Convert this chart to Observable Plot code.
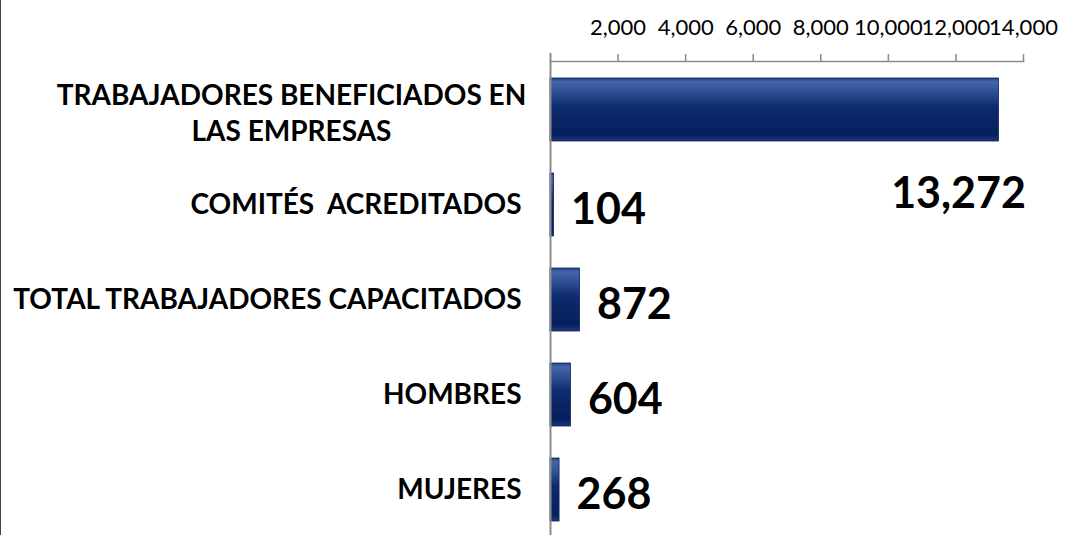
<!DOCTYPE html>
<html>
<head>
<meta charset="utf-8">
<script src="https://cdn.jsdelivr.net/npm/d3@7"></script>
<script src="https://cdn.jsdelivr.net/npm/@observablehq/plot@0.6"></script>
<style>
  html, body { margin: 0; padding: 0; background: #fff; }
  #wrap { position: relative; width: 1078px; height: 535px; overflow: hidden; }
  #frameLine { position: absolute; left: 0; top: 0; width: 1px; height: 535px; background: #444; }
  svg text { white-space: pre; }
</style>
</head>
<body>
<div id="wrap"><div id="frameLine"></div></div>
<script>
const categories = [
  "TRABAJADORES BENEFICIADOS EN\nLAS EMPRESAS",
  "COMITÉS  ACREDITADOS",
  "TOTAL TRABAJADORES CAPACITADOS",
  "HOMBRES",
  "MUJERES"
];
const values = [13272, 104, 872, 604, 268];
const xTicks = [2000, 4000, 6000, 8000, 10000, 12000, 14000];

const data = categories.map((cat, i) => ({cat, value: values[i]}));
const fmt = d3.format(",");

const plot = Plot.plot({
  width: 1078,
  height: 535,
  marginLeft: 550,
  marginRight: 55,
  marginTop: 61,
  marginBottom: 0,
  style: {fontFamily: "Lato, 'Open Sans', sans-serif", background: "white", color: "black", overflow: "visible"},
  x: {domain: [0, 14000], label: null},
  y: {domain: categories, range: [60, 540], paddingInner: 0.333, paddingOuter: 0.1667, label: null},
  marks: [
    Plot.barX(data, {x: "value", y: "cat", fill: "url(#barGrad)", stroke: "#0a1f55", strokeWidth: 0.8}),
    Plot.frame({anchor: "top", stroke: "#8c8c8c", strokeWidth: 1.5}),
    Plot.ruleX([0], {stroke: "#8c8c8c", strokeWidth: 2, insetTop: -8}),
    Plot.axisX({anchor: "top", ticks: xTicks, tickFormat: fmt, tickSize: 8, tickPadding: 19,
      fontSize: 22, stroke: "#8c8c8c", strokeWidth: 1.5, fill: "black", label: null}),
    Plot.axisY({ticks: categories.slice(1), tickSize: 0, tickPadding: 29, fontSize: 28,
      fontWeight: "bold", fill: "black", label: null}),
    Plot.text([data[0]], {y: "cat", text: "cat", frameAnchor: "left", dx: -259, dy: 1,
      textAnchor: "middle", fontSize: 28, fontWeight: "bold", lineHeight: 1.29, fill: "black"}),
    Plot.text(data.slice(1), {x: "value", y: "cat", text: d => fmt(d.value), textAnchor: "start",
      dx: 17, dy: 5, fontSize: 43, fontWeight: "bold", fill: "black"}),
    Plot.text([data[0]], {x: "value", y: "cat", text: d => fmt(d.value), textAnchor: "end",
      dx: 27, dy: 84, fontSize: 43, fontWeight: "bold", fill: "black"})
  ]
});

const svgNS = "http://www.w3.org/2000/svg";
const defs = document.createElementNS(svgNS, "defs");
defs.innerHTML = `
  <linearGradient id="barGrad" x1="0" y1="0" x2="0" y2="1">
    <stop offset="0" stop-color="#23418a"/>
    <stop offset="0.06" stop-color="#4466ad"/>
    <stop offset="0.22" stop-color="#2f4f96"/>
    <stop offset="0.45" stop-color="#0e2b6d"/>
    <stop offset="0.9" stop-color="#061f5e"/>
    <stop offset="1" stop-color="#1d3a7c"/>
  </linearGradient>`;
plot.insertBefore(defs, plot.firstChild);
document.getElementById("wrap").appendChild(plot);
</script>
</body>
</html>
